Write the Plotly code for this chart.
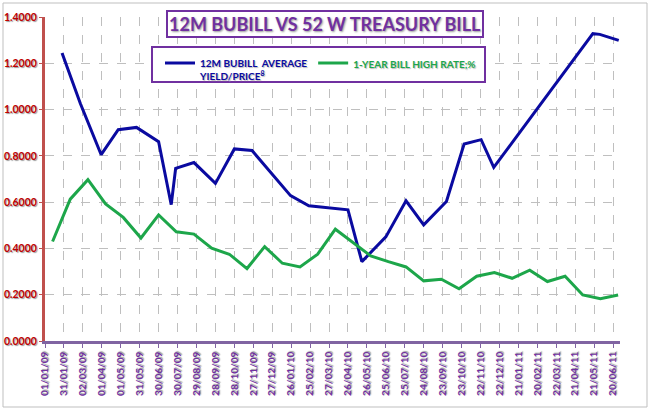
import plotly.graph_objects as go

# ---- data ----
bubill_dates = ["2009-01-28", "2009-02-26", "2009-03-31", "2009-04-27", "2009-05-26",
                "2009-06-30", "2009-07-20", "2009-07-27", "2009-08-25", "2009-09-28",
                "2009-10-28", "2009-11-25", "2010-01-25", "2010-02-23", "2010-04-26",
                "2010-05-18", "2010-06-25", "2010-07-27", "2010-08-24", "2010-09-29",
                "2010-10-27", "2010-11-23", "2010-12-13", "2011-05-19", "2011-05-30",
                "2011-06-29"]
bubill_values = [1.244, 1.026, 0.805, 0.913, 0.923, 0.861, 0.589, 0.746, 0.771, 0.681,
                 0.830, 0.823, 0.628, 0.584, 0.567, 0.343, 0.450, 0.606, 0.502, 0.603,
                 0.851, 0.870, 0.750, 1.328, 1.325, 1.299]

tbill_dates = ["2009-01-13", "2009-02-10", "2009-03-10", "2009-04-07", "2009-05-05",
               "2009-06-02", "2009-06-30", "2009-07-28", "2009-08-25", "2009-09-22",
               "2009-10-20", "2009-11-17", "2009-12-15", "2010-01-12", "2010-02-09",
               "2010-03-09", "2010-04-06", "2010-05-04", "2010-06-01", "2010-06-29",
               "2010-07-27", "2010-08-24", "2010-09-21", "2010-10-19", "2010-11-16",
               "2010-12-14", "2011-01-11", "2011-02-08", "2011-03-08", "2011-04-05",
               "2011-05-03", "2011-05-31", "2011-06-28"]
tbill_values = [0.430, 0.613, 0.697, 0.592, 0.534, 0.445, 0.545, 0.472, 0.462, 0.401,
                0.375, 0.313, 0.408, 0.336, 0.320, 0.375, 0.483, 0.425, 0.368, 0.343,
                0.320, 0.260, 0.267, 0.226, 0.280, 0.296, 0.271, 0.306, 0.257, 0.280,
                0.199, 0.183, 0.199]

tick_dates = ["2009-01-01", "2009-01-31", "2009-03-02", "2009-04-01", "2009-05-01",
              "2009-05-31", "2009-06-30", "2009-07-30", "2009-08-29", "2009-09-28",
              "2009-10-28", "2009-11-27", "2009-12-27", "2010-01-26", "2010-02-25",
              "2010-03-27", "2010-04-26", "2010-05-26", "2010-06-25", "2010-07-25",
              "2010-08-24", "2010-09-23", "2010-10-23", "2010-11-22", "2010-12-22",
              "2011-01-21", "2011-02-20", "2011-03-22", "2011-04-21", "2011-05-21",
              "2011-06-20"]
tick_labels = ["01/01/09", "31/01/09", "02/03/09", "01/04/09", "01/05/09", "31/05/09",
               "30/06/09", "30/07/09", "29/08/09", "28/09/09", "28/10/09", "27/11/09",
               "27/12/09", "26/01/10", "25/02/10", "27/03/10", "26/04/10", "26/05/10",
               "25/06/10", "25/07/10", "24/08/10", "23/09/10", "23/10/10", "22/11/10",
               "22/12/10", "21/01/11", "20/02/11", "22/03/11", "21/04/11", "21/05/11",
               "20/06/11"]

title_text = "12M BUBILL VS 52 W TREASURY BILL"
name_bubill = "12M BUBILL  AVERAGE<br>YIELD/PRICE<sup>8</sup>"
name_tbill = "1-YEAR BILL HIGH RATE;%"

BLUE = "#0A0AA0"
GREEN = "#1DA64A"
PURPLE = "#7030A0"
FONT = "Lato"

fig = go.Figure()
fig.add_trace(go.Scatter(x=bubill_dates, y=bubill_values, mode="lines",
                         line=dict(color=BLUE, width=3),
                         name=f"<span style='color:{BLUE}'><b>{name_bubill}</b></span>"))
fig.add_trace(go.Scatter(x=tbill_dates, y=tbill_values, mode="lines",
                         line=dict(color=GREEN, width=3),
                         name=f"<span style='color:{GREEN}'><b>{name_tbill}</b></span>"))

W, H = 650, 412
L, T, R, B = 45, 17, 650 - 620, 412 - 341
pw, ph = W - L - R, H - T - B

def px(x):
    return (x - L) / pw

def py(y):
    return (H - B - y) / ph

shape_list = [
    # outer chart frame
    dict(type="rect", xref="paper", yref="paper", x0=px(3), x1=px(647), y0=py(407), y1=py(3),
         line=dict(color="#BFBFBF", width=1), fillcolor="rgba(0,0,0,0)", layer="below"),
    # legend box
    dict(type="rect", xref="paper", yref="paper", x0=px(152), x1=px(485), y0=py(82), y1=py(47),
         line=dict(color=PURPLE, width=2), fillcolor="white", layer="above"),
]

fig.update_layout(
    width=W, height=H,
    margin=dict(l=L, r=R, t=T, b=B, autoexpand=False),
    paper_bgcolor="white", plot_bgcolor="white",
    font=dict(family=FONT),
    showlegend=True,
    legend=dict(orientation="h", x=px(160), y=py(50), xanchor="left", yanchor="top",
                bgcolor="rgba(0,0,0,0)", borderwidth=0, valign="top",
                itemwidth=30,
                font=dict(family=FONT, size=10, shadow="1px 1px 1px #bbbbbb")),
    shapes=shape_list,
    annotations=[dict(text=f"<b>{title_text}</b>", xref="paper", yref="paper",
                      x=px(325), y=py(24), xanchor="center", yanchor="middle",
                      showarrow=False, bgcolor="white", bordercolor=PURPLE, borderwidth=2,
                      borderpad=1,
                      font=dict(family=FONT, size=18, color=PURPLE,
                                shadow="1px 1px 2px #999999"))],
    xaxis=dict(type="date", range=["2009-01-01", "2011-07-01"], automargin=False,
               tickvals=tick_dates, ticktext=tick_labels, tickangle=-90,
               tickfont=dict(family=FONT, size=10, color=PURPLE, weight="bold",
                             shadow="1px 1px 1px #999999"),
               showline=True, linecolor="#8064A2", linewidth=2.5,
               ticks="outside", ticklen=4, tickcolor="#8064A2",
               showgrid=True, gridcolor="#BFBFBF", griddash="dash", gridwidth=1,
               zeroline=False),
    yaxis=dict(range=[0, 1.4], dtick=0.2, tick0=0, tickformat=".4f", automargin=False,
               tickfont=dict(family=FONT, size=10.5, color="#C00000", weight="bold",
                             shadow="1px 1px 1px #999999"),
               showline=True, linecolor="#C0504D", linewidth=3,
               ticks="outside", ticklen=3, tickcolor="#C0504D",
               showgrid=True, gridcolor="#BFBFBF", griddash="dash", gridwidth=1,
               zeroline=False),
)

fig.write_html("out.html", config={"displayModeBar": False},
               post_script="document.body.style.margin='0px';")
